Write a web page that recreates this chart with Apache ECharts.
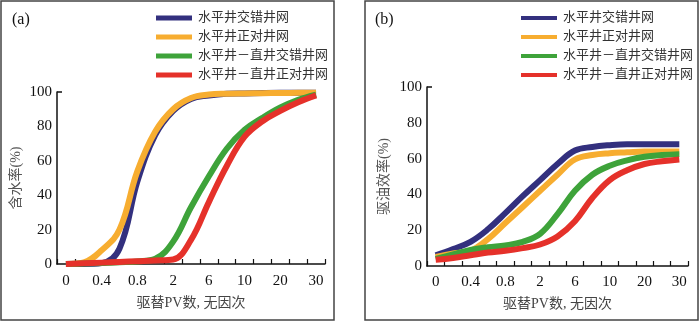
<!DOCTYPE html>
<html>
<head>
<meta charset="utf-8">
<script src="https://cdn.jsdelivr.net/npm/echarts@6/dist/echarts.min.js"></script>
<style>
html, body { margin: 0; padding: 0; background: #fff; }
#main { width: 700px; height: 323px; }
</style>
</head>
<body>
<div id="main"></div>
<script>
// x categories (only every other one is labelled)
const pvCats = ['0', '0.2', '0.4', '0.6', '0.8', '1.4', '2', '4', '6', '8', '10', '15', '20', '25', '30']
const yTicks = [0, 20, 40, 60, 80, 100]
const seriesNames = ['水平井交错井网', '水平井正对井网', '水平井－直井交错井网', '水平井－直井正对井网']
const lineColors = ['#33307e', '#f7ad30', '#3ea33a', '#e5312a']

// (a) 含水率
const cutStag = [0, 0, 0.5, 9, 48, 75, 89, 96, 98, 99, 99.2, 99.4, 99.5, 99.5, 99.6]
const cutAlig = [0, 1, 8, 20, 54, 77, 90, 96.5, 98.5, 99, 99.2, 99.3, 99.4, 99.5, 99.6]
const cutHvStag = [0, 0.3, 0.6, 1, 1.5, 3, 13, 33, 51, 67, 78, 85, 91, 95.5, 98.5]
const cutHvAlig = [0, 0.4, 0.8, 1.2, 1.6, 2, 2.6, 14, 36, 57, 74, 83, 89, 94, 98]

// (b) 驱油效率
const recStag = [6, 9.5, 13.5, 20.5, 29.5, 39, 48, 57, 64.5, 66.5, 67.5, 68, 68, 68, 68]
const recAlig = [5, 7, 8.5, 15, 24, 33, 42, 51, 59.5, 62, 63, 63.5, 64, 64, 64]
const recHvStag = [4, 6.5, 9, 10.5, 11.5, 13.5, 18, 29, 42, 51, 56, 59, 61, 62, 62.5]
const recHvAlig = [3.5, 4.5, 6, 7.5, 8.5, 10, 12, 16.5, 25, 38, 48, 53.5, 57, 58.5, 59.5]

const FONT = "'Liberation Serif', 'Noto Sans CJK SC', serif"

const makeX = (gridIndex, labelMargin, nameGap) => ({
  type: 'category',
  gridIndex: gridIndex,
  data: pvCats,
  boundaryGap: true,
  name: '驱替PV数, 无因次',
  nameLocation: 'middle',
  nameGap: nameGap,
  nameTextStyle: { fontFamily: FONT, fontSize: 14, color: '#444' },
  axisLine: { lineStyle: { color: '#111', width: 1.5 } },
  axisTick: { show: true, inside: true, length: 5, interval: 0, lineStyle: { color: '#111', width: 1.2 } },
  axisLabel: { interval: 1, margin: labelMargin, fontFamily: FONT, fontSize: 15, color: '#111' },
  splitLine: { show: false }
})

const makeY = (gridIndex, name, nameGap) => ({
  type: 'value',
  gridIndex: gridIndex,
  min: 0,
  max: 100,
  interval: 20,
  name: name,
  nameLocation: 'middle',
  nameGap: nameGap,
  nameRotate: 90,
  nameTextStyle: { fontFamily: FONT, fontSize: 14, color: '#555' },
  axisLine: { show: true, lineStyle: { color: '#111', width: 1.5 } },
  axisTick: { show: true, inside: true, length: 5, customValues: [yTicks[yTicks.length - 1]], lineStyle: { color: '#111', width: 1.5 } },
  axisLabel: { margin: 5, fontFamily: FONT, fontSize: 15, color: '#111', customValues: yTicks },
  splitLine: { show: false }
})

const makeLine = (idx, axisIndex, data) => ({
  name: seriesNames[idx],
  type: 'line',
  xAxisIndex: axisIndex,
  yAxisIndex: axisIndex,
  data: data,
  smooth: 0.4,
  showSymbol: false,
  lineStyle: { color: lineColors[idx], width: 6 },
  itemStyle: { color: lineColors[idx] }
})

const makeLegend = (left, h) => ({
  orient: 'vertical',
  left: left,
  top: 6,
  itemWidth: 36,
  itemHeight: h,
  itemGap: 5,
  icon: 'rect',
  data: seriesNames,
  textStyle: { fontFamily: FONT, fontSize: 13, color: '#333', lineHeight: 14, padding: [0, 0, 0, 1] }
})

const option = {
  animation: false,
  color: lineColors,
  title: [
    { text: '(a)', left: 7, top: 7, textStyle: { fontFamily: FONT, fontSize: 16, fontWeight: 'normal', color: '#111' } },
    { text: '(b)', left: 370, top: 7, textStyle: { fontFamily: FONT, fontSize: 16, fontWeight: 'normal', color: '#111' } }
  ],
  legend: [makeLegend(151, 5), makeLegend(516, 4)],
  grid: [
    { left: 57, top: 92, width: 268, height: 172 },
    { left: 427, top: 87, width: 261, height: 179 }
  ],
  xAxis: [makeX(0, 10, 32), makeX(1, 9, 31)],
  yAxis: [makeY(0, '含水率(%)', 34), makeY(1, '驱油效率(%)', 36)],
  graphic: [
    { type: 'rect', shape: { x: 1, y: 1, width: 333, height: 319 }, style: { fill: 'none', stroke: '#444', lineWidth: 1.5 } },
    { type: 'rect', shape: { x: 365, y: 1, width: 333, height: 319 }, style: { fill: 'none', stroke: '#444', lineWidth: 1.5 } }
  ],
  series: [
    makeLine(0, 0, cutStag),
    makeLine(1, 0, cutAlig),
    makeLine(2, 0, cutHvStag),
    makeLine(3, 0, cutHvAlig),
    makeLine(0, 1, recStag),
    makeLine(1, 1, recAlig),
    makeLine(2, 1, recHvStag),
    makeLine(3, 1, recHvAlig)
  ]
}

const chart = echarts.init(document.getElementById('main'))
chart.setOption(option)
</script>
</body>
</html>
